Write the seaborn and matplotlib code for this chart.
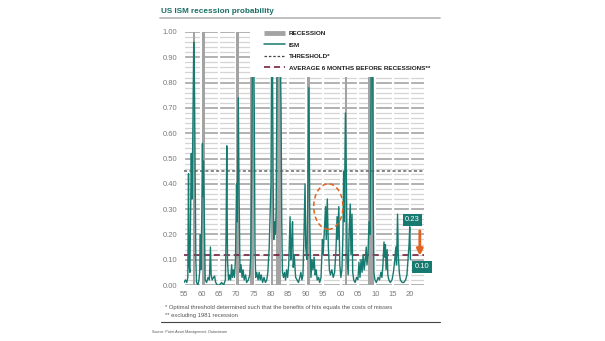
import matplotlib
matplotlib.use("Agg")
import matplotlib.pyplot as plt
from matplotlib.lines import Line2D
from matplotlib.patches import Ellipse, Rectangle
import seaborn as sns
import pandas as pd

# ---------------- data ----------------
dates = [1955.0, 1955.4, 1955.8, 1956.1, 1956.3, 1956.45, 1956.7, 1956.9, 1957.1, 1957.3,
         1957.5, 1957.8, 1958.0, 1958.2, 1958.4, 1958.6, 1959.0, 1959.3, 1959.5, 1959.7,
         1959.85, 1960.1, 1960.3, 1960.45, 1960.6, 1960.9, 1961.1, 1961.5, 1961.9, 1962.3,
         1962.6, 1962.8, 1963.1, 1963.5, 1963.8, 1964.1, 1964.6, 1965.2, 1965.8, 1966.4,
         1966.9, 1967.1, 1967.3, 1967.5, 1967.8, 1968.1, 1968.4, 1968.7, 1968.9, 1969.2,
         1969.5, 1969.8, 1970.1, 1970.3, 1970.6, 1970.85, 1971.1, 1971.4, 1971.7, 1972.0,
         1972.3, 1972.7, 1973.0, 1973.5, 1973.9, 1974.2, 1974.5, 1974.7, 1975.0, 1975.2,
         1975.4, 1975.6, 1975.9, 1976.3, 1976.6, 1976.9, 1977.2, 1977.6, 1978.0, 1978.4,
         1978.8, 1979.1, 1979.5, 1979.8, 1980.0, 1980.2, 1980.4, 1980.6, 1980.8, 1981.0,
         1981.3, 1981.5, 1981.8, 1982.2, 1982.6, 1982.9, 1983.1, 1983.3, 1983.6, 1983.9,
         1984.2, 1984.5, 1984.8, 1985.1, 1985.5, 1985.7, 1986.0, 1986.2, 1986.4, 1986.7,
         1986.9, 1987.1, 1987.5, 1987.9, 1988.3, 1988.6, 1988.9, 1989.2, 1989.5, 1989.8,
         1990.0, 1990.3, 1990.6, 1990.9, 1991.2, 1991.5, 1991.8, 1992.1, 1992.4, 1992.7,
         1993.0, 1993.3, 1993.7, 1994.0, 1994.4, 1994.8, 1995.0, 1995.3, 1995.7, 1995.9,
         1996.2, 1996.5, 1996.8, 1997.1, 1997.5, 1997.9, 1998.3, 1998.7, 1999.0, 1999.2,
         1999.5, 1999.8, 2000.1, 2000.4, 2000.7, 2000.9, 2001.1, 2001.4, 2001.7, 2001.9,
         2002.2, 2002.5, 2002.8, 2003.0, 2003.3, 2003.5, 2003.8, 2004.2, 2004.6, 2005.0,
         2005.3, 2005.6, 2005.9, 2006.2, 2006.5, 2006.8, 2007.1, 2007.4, 2007.6, 2007.9,
         2008.2, 2008.5, 2008.7, 2008.9, 2009.2, 2009.4, 2009.6, 2009.9, 2010.3, 2010.8,
         2011.2, 2011.6, 2011.9, 2012.2, 2012.5, 2012.7, 2012.9, 2013.1, 2013.4, 2013.6,
         2013.9, 2014.3, 2014.8, 2015.2, 2015.6, 2015.9, 2016.1, 2016.4, 2016.6, 2016.9,
         2017.2, 2017.7, 2018.2, 2018.7, 2019.1, 2019.4, 2019.7, 2019.9, 2020.1]
ism_prob = [0.01, 0.02, 0.01, 0.03, 0.44, 0.08, 0.05, 0.30, 0.52, 0.34,
            0.55, 0.96, 0.80, 0.45, 0.10, 0.01, 0.00, 0.02, 0.05, 0.20,
            0.06, 0.25, 0.56, 0.35, 0.49, 0.20, 0.02, 0.01, 0.03, 0.02,
            0.15, 0.04, 0.02, 0.03, 0.035, 0.01, 0.00, 0.00, 0.01, 0.00,
            0.02, 0.20, 0.55, 0.10, 0.02, 0.04, 0.02, 0.08, 0.03, 0.06,
            0.03, 0.10, 0.40, 0.25, 0.74, 0.35, 0.05, 0.08, 0.03, 0.06,
            0.02, 0.04, 0.01, 0.02, 0.04, 0.12, 0.50, 0.99, 1.00, 0.70,
            0.15, 0.03, 0.05, 0.02, 0.05, 0.02, 0.04, 0.01, 0.03, 0.01,
            0.02, 0.05, 0.15, 0.30, 0.40, 0.95, 1.00, 0.45, 0.18, 0.25,
            0.20, 0.30, 0.95, 1.00, 1.00, 0.70, 0.25, 0.05, 0.03, 0.05,
            0.02, 0.06, 0.03, 0.08, 0.27, 0.10, 0.18, 0.25, 0.07, 0.12,
            0.07, 0.03, 0.02, 0.01, 0.03, 0.05, 0.02, 0.04, 0.20, 0.40,
            0.15, 0.10, 0.35, 0.78, 0.20, 0.03, 0.10, 0.06, 0.11, 0.04,
            0.06, 0.02, 0.03, 0.01, 0.03, 0.18, 0.12, 0.20, 0.31, 0.18,
            0.34, 0.15, 0.06, 0.04, 0.06, 0.03, 0.05, 0.14, 0.27, 0.18,
            0.31, 0.08, 0.03, 0.06, 0.20, 0.45, 0.25, 0.68, 0.40, 0.10,
            0.04, 0.22, 0.32, 0.12, 0.28, 0.05, 0.02, 0.01, 0.03, 0.02,
            0.09, 0.03, 0.10, 0.05, 0.12, 0.06, 0.10, 0.15, 0.08, 0.12,
            0.25, 0.20, 0.60, 1.00, 1.00, 0.35, 0.05, 0.02, 0.01, 0.03,
            0.02, 0.05, 0.03, 0.08, 0.17, 0.11, 0.16, 0.06, 0.14, 0.04,
            0.02, 0.01, 0.02, 0.05, 0.10, 0.15, 0.08, 0.28, 0.12, 0.05,
            0.02, 0.01, 0.01, 0.02, 0.04, 0.10, 0.16, 0.23, 0.10]

recession_start = [1957.6, 1960.3, 1969.9, 1973.9, 1980.0, 1981.5, 1990.5, 2001.2, 2007.9]
recession_end = [1958.3, 1961.1, 1970.9, 1975.2, 1980.5, 1982.9, 1991.2, 2001.9, 2009.5]

threshold = 0.45
avg_before = 0.12
last_peak, last_value = 0.23, 0.10

x_ticks = list(range(1955, 2021, 5))
x_labels = ["55", "60", "65", "70", "75", "80", "85", "90", "95", "00", "05", "10", "15", "20"]
y_ticks = [0.0, 0.1, 0.2, 0.3, 0.4, 0.5, 0.6, 0.7, 0.8, 0.9, 1.0]

# ---------------- style ----------------
TEAL = "#177a70"
TITLE_TEAL = "#1a6d65"
GREY_BAR = "#a3a3a3"
ORANGE = "#e2621f"
MAROON = "#6e1030"

sns.set_theme(style="white")
plt.rcParams["font.family"] = ["Liberation Sans Narrow", "Liberation Sans", "DejaVu Sans"]

fig = plt.figure(figsize=(6.05, 3.41), dpi=100)
W, H = 605, 341
ax = fig.add_axes([184 / W, 1 - 285 / H, 240 / W, 253 / H])

df = pd.DataFrame({"year": dates, "prob": ism_prob})

# grid
ax.set_ylim(0, 1.0)
ax.set_xlim(1955, 2024)
ax.set_yticks(y_ticks)
ax.set_yticks([i * 0.02 for i in range(51)], minor=True)
ax.yaxis.grid(True, which="minor", color="#d4d4d4", lw=0.9, zorder=0.5)
ax.yaxis.grid(True, which="major", color="#ababab", lw=1.3, zorder=0.6)
ax.xaxis.grid(False)
ax.set_axisbelow(True)
for t in x_ticks:
    ax.axvline(t, color="white", lw=1.6, zorder=1)

# recessions
for s, e in zip(recession_start, recession_end):
    ax.axvspan(s, e, color=GREY_BAR, lw=0, zorder=2)

ax.axhline(threshold, color="#666666", lw=1.1, ls=(0, (2, 1.5)), zorder=3)
ax.axhline(avg_before, color=MAROON, lw=1.1, ls=(0, (4, 2.5)), zorder=3)

sns.lineplot(data=df, x="year", y="prob", ax=ax, color=TEAL, lw=1.0, zorder=4,
             legend=False)

ax.add_patch(Ellipse((1996.5, 0.31), width=8.4, height=0.18, fill=False,
                     edgecolor=ORANGE, ls=(0, (3, 2)), lw=1.1, zorder=5))

ax.annotate("", xy=(2022.8, 0.105), xytext=(2022.8, 0.225),
            arrowprops=dict(arrowstyle="-|>", color=ORANGE, lw=2.0, mutation_scale=9),
            annotation_clip=False, zorder=6)
ax.text(2020.6, 0.257, f"{last_peak:.2f}", ha="center", va="center", color="white",
        fontsize=5.5, zorder=7, clip_on=False,
        bbox=dict(boxstyle="square,pad=0.3", fc=TEAL, ec="none"))
ax.text(2023.4, 0.072, f"{last_value:.2f}", ha="center", va="center", color="white",
        fontsize=5.5, zorder=7, clip_on=False,
        bbox=dict(boxstyle="square,pad=0.3", fc=TEAL, ec="none"))

for sp in ax.spines.values():
    sp.set_visible(False)
ax.set_xticks(x_ticks)
ax.set_xticklabels(x_labels)
ax.set_yticklabels([f"{v:.2f}" for v in y_ticks])
ax.tick_params(axis="both", which="both", length=0, colors="#7a7a7a", labelsize=5.5)
ax.tick_params(axis="y", pad=5)
ax.tick_params(axis="x", pad=4)
ax.set_xlabel("")
ax.set_ylabel("")

# white backing of the legend (covers the top right of the plot)
ax.add_patch(Rectangle((0.275, 0.822), 0.73, 0.2, transform=ax.transAxes,
                       facecolor="white", edgecolor="none", zorder=9, clip_on=False))

handles = [Line2D([0], [0], color=GREY_BAR, lw=3.5, solid_capstyle="butt"),
           Line2D([0], [0], color=TEAL, lw=1.1),
           Line2D([0], [0], color="#444444", lw=0.9, ls=(0, (2, 1.5))),
           Line2D([0], [0], color=MAROON, lw=1.1, ls=(0, (4, 2.5)))]
labels = ["RECESSION", "ISM", "THRESHOLD*", "AVERAGE 6 MONTHS BEFORE RECESSIONS**"]
leg = ax.legend(handles, labels, loc="upper left", bbox_to_anchor=(0.325, 1.013),
                frameon=False, fontsize=4.6, handlelength=3.3, handletextpad=0.6,
                labelspacing=0.95, borderpad=0.3, borderaxespad=0)
for t in leg.get_texts():
    t.set_fontweight("bold")
    t.set_color("#222222")
leg.set_zorder(10)

# title and notes
fig.text(161 / W, 1 - 11.5 / H, "US ISM recession probability", color=TITLE_TEAL,
         fontsize=5.9, fontweight="bold", va="center", ha="left")
fig.add_artist(Line2D([160 / W, 440 / W], [1 - 18 / H, 1 - 18 / H],
                      color="#b5b5b5", lw=1.2))
fig.text(165 / W, 1 - 308 / H,
         "* Optimal threshold determined such that the benefits of hits equals the costs of misses",
         color="#555555", fontsize=4.2, va="center", ha="left")
fig.text(165 / W, 1 - 315.5 / H, "** excluding 1981 recession",
         color="#555555", fontsize=4.2, va="center", ha="left")
fig.add_artist(Line2D([161 / W, 440 / W], [1 - 322 / H, 1 - 322 / H],
                      color="#444444", lw=0.8))
fig.text(152 / W, 1 - 332 / H, "Source: Pictet Asset Management, Datastream",
         color="#555555", fontsize=2.6, va="center", ha="left")

fig.savefig("out.png", dpi=100, facecolor="white")
